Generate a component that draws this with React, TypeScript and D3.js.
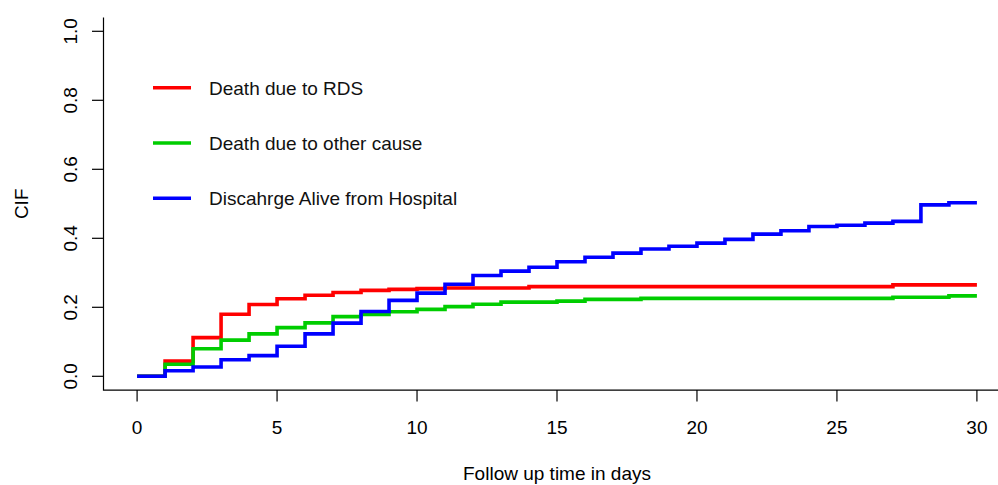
import React, { useEffect, useRef } from 'react';
import * as d3 from 'd3';

// follow up day at which each value starts
const days = [0, 1, 2, 3, 4, 5, 6, 7, 8, 9, 10, 11, 12, 13, 14, 15, 16, 17, 18, 19, 20, 21, 22, 23, 24, 25, 26, 27, 28, 29, 30];

const deathRds = [0, 0.044, 0.112, 0.180, 0.208, 0.225, 0.235, 0.243, 0.249, 0.252, 0.254, 0.256, 0.256, 0.256, 0.260, 0.260, 0.260, 0.260, 0.260, 0.260, 0.260, 0.260, 0.260, 0.260, 0.260, 0.260, 0.260, 0.265, 0.265, 0.265, 0.265];
const deathOther = [0, 0.035, 0.080, 0.105, 0.123, 0.141, 0.155, 0.173, 0.179, 0.187, 0.194, 0.202, 0.209, 0.215, 0.215, 0.218, 0.223, 0.223, 0.226, 0.226, 0.226, 0.226, 0.226, 0.226, 0.226, 0.226, 0.226, 0.229, 0.229, 0.233, 0.233];
const discharged = [0, 0.016, 0.027, 0.048, 0.060, 0.087, 0.123, 0.154, 0.188, 0.220, 0.241, 0.267, 0.292, 0.305, 0.316, 0.332, 0.345, 0.357, 0.369, 0.377, 0.386, 0.397, 0.412, 0.422, 0.434, 0.438, 0.444, 0.449, 0.497, 0.503, 0.503];

const seriesNames = ['Death due to RDS', 'Death due to other cause', 'Discahrge Alive from Hospital'];
const seriesColors = ['#ff0000', '#00cd00', '#0000ff'];

const xTicks = [0, 5, 10, 15, 20, 25, 30];
const yTicks = [0, 0.2, 0.4, 0.6, 0.8, 1.0];

const App = () => {
  const svgRef = useRef(null);

  useEffect(() => {
    const svg = d3.select(svgRef.current);
    svg.selectAll('*').remove();

    const font = 'Liberation Sans, Arial, sans-serif';
    const fs = 19;

    // R style plot region: data range padded by 4% each side
    const x = d3.scaleLinear().domain([-1.2, 31.2]).range([103.5, 1010.5]);
    const y = d3.scaleLinear().domain([-0.04, 1.04]).range([390.1, 17.5]);

    const series = [deathRds, deathOther, discharged];

    const line = d3.line()
      .x(d => x(d[0]))
      .y(d => y(d[1]))
      .curve(d3.curveStepAfter);

    series.forEach((vals, i) => {
      svg.append('path')
        .datum(days.map((d, j) => [d, vals[j]]))
        .attr('d', line)
        .attr('fill', 'none')
        .attr('stroke', seriesColors[i])
        .attr('stroke-width', 3.6);
    });

    // L-shaped box
    svg.append('path')
      .attr('d', `M${x(-1.2)},${y(1.04)}V${y(-0.04)}H${x(31.2)}`)
      .attr('fill', 'none')
      .attr('stroke', '#000')
      .attr('stroke-width', 1.2);

    // x axis ticks
    const xa = svg.append('g');
    xTicks.forEach(t => {
      xa.append('line')
        .attr('x1', x(t)).attr('x2', x(t))
        .attr('y1', y(-0.04)).attr('y2', y(-0.04) + 11.5)
        .attr('stroke', '#000').attr('stroke-width', 1.2);
      xa.append('text')
        .attr('x', x(t)).attr('y', 434)
        .attr('text-anchor', 'middle')
        .attr('font-family', font).attr('font-size', fs)
        .text(t);
    });

    // y axis ticks
    const ya = svg.append('g');
    yTicks.forEach(t => {
      ya.append('line')
        .attr('x1', x(-1.2) - 11.5).attr('x2', x(-1.2))
        .attr('y1', y(t)).attr('y2', y(t))
        .attr('stroke', '#000').attr('stroke-width', 1.2);
      ya.append('text')
        .attr('transform', `translate(77,${y(t)}) rotate(-90)`)
        .attr('text-anchor', 'middle')
        .attr('font-family', font).attr('font-size', fs)
        .text(t.toFixed(1));
    });

    // axis titles
    svg.append('text')
      .attr('x', (x(-1.2) + x(31.2)) / 2).attr('y', 480)
      .attr('text-anchor', 'middle')
      .attr('font-family', font).attr('font-size', fs)
      .text('Follow up time in days');

    svg.append('text')
      .attr('transform', `translate(28,${(y(1.04) + y(-0.04)) / 2}) rotate(-90)`)
      .attr('text-anchor', 'middle')
      .attr('font-family', font).attr('font-size', fs)
      .text('CIF');

    // legend
    const lg = svg.append('g');
    seriesNames.forEach((name, i) => {
      const ly = 87.8 + i * 55.2;
      lg.append('line')
        .attr('x1', 153).attr('x2', 191)
        .attr('y1', ly).attr('y2', ly)
        .attr('stroke', seriesColors[i]).attr('stroke-width', 3.6);
      lg.append('text')
        .attr('x', 209).attr('y', ly + 7)
        .attr('font-family', font).attr('font-size', fs)
        .attr('fill', '#111')
        .text(name);
    });
  }, []);

  return (
    <svg
      ref={svgRef}
      width="998"
      height="485"
      style={{ position: 'absolute', left: 0, top: 0, background: '#fff' }}
    ></svg>
  );
};

export default App;
